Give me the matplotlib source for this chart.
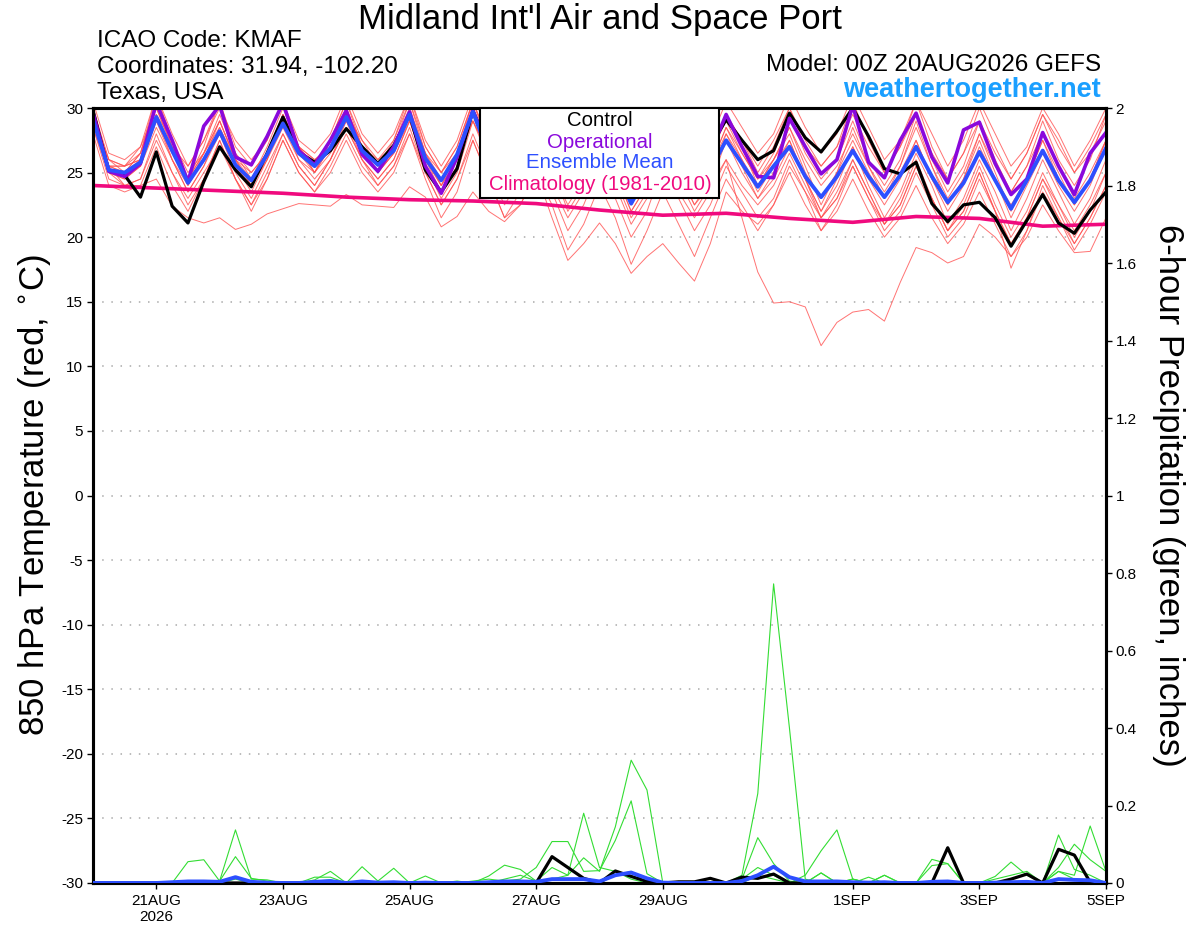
import matplotlib
matplotlib.use('Agg')
import matplotlib.pyplot as plt
from matplotlib.patches import Rectangle

plt.rcParams['font.family'] = ['Liberation Sans', 'DejaVu Sans']
plt.rcParams['axes.unicode_minus'] = False

# 6-hourly steps from 00Z 20AUG2026 to 00Z 05SEP2026
steps = list(range(65))
days = [s * 0.25 for s in steps]
clim_days = list(range(17))

tick_days = [1, 3, 5, 7, 9, 12, 14, 16]
tick_labels = ['21AUG\n2026', '23AUG', '25AUG', '27AUG', '29AUG', '1SEP', '3SEP', '5SEP']

# 850 hPa temperature (C)
ens_mean = [29.1, 25.2, 25.0, 25.8, 29.3, 26.7, 24.2, 26.0, 28.2, 25.6, 24.4, 26.4, 28.8, 26.5, 25.5, 26.9, 29.3,
            26.7, 25.6, 26.7, 29.5, 26.1, 24.4, 26.4, 29.7, 26.5, 24.3, 26.0, 28.8, 26.0, 23.8, 25.5, 28.3,
            25.3, 22.6, 24.8, 27.8, 25.3, 23.3, 25.2, 27.5, 25.7, 23.9, 25.5, 27.0, 24.7, 23.1, 24.7, 26.7,
            24.7, 23.1, 24.8, 27.0, 24.7, 22.7, 24.2, 26.6, 24.4, 22.2, 24.4, 26.7, 24.4, 22.7, 24.4, 26.9]
control = [29.8, 25.1, 24.8, 23.1, 26.6, 22.4, 21.1, 24.3, 27.0, 25.2, 23.9, 26.5, 29.3, 26.6, 25.8, 26.7, 28.4,
           27.0, 25.7, 27.1, 29.5, 25.2, 23.5, 25.3, 29.8, 27.0, 25.0, 26.5, 29.0, 26.5, 24.5, 26.0, 28.5,
           26.0, 24.0, 26.0, 28.5, 27.0, 25.5, 27.0, 29.1, 27.5, 26.0, 26.7, 29.6, 27.7, 26.6, 28.2, 30.0,
           27.8, 25.3, 24.9, 25.8, 22.6, 21.2, 22.5, 22.7, 21.5, 19.3, 21.3, 23.3, 21.1, 20.3, 22.1, 23.5]
operational = [29.6, 25.1, 24.7, 25.7, 30.4, 27.5, 24.3, 28.6, 30.2, 26.2, 25.6, 27.8, 30.4, 26.7, 25.6, 27.5, 29.8,
               26.4, 25.1, 27.0, 29.7, 25.5, 23.4, 26.2, 29.8, 26.8, 24.5, 26.5, 29.5, 26.3, 24.0, 25.8, 29.0,
               25.5, 22.8, 25.5, 28.5, 26.0, 24.0, 26.5, 29.5, 27.0, 24.7, 24.6, 29.2, 27.0, 24.9, 26.0, 30.2,
               25.8, 24.6, 27.5, 29.6, 26.2, 24.2, 28.3, 28.9, 25.7, 23.3, 24.5, 28.1, 25.5, 23.3, 26.5, 28.1]
climatology = [24.0, 23.8, 23.6, 23.4, 23.1, 22.9, 22.8, 22.6, 22.1, 21.7, 21.85, 21.45, 21.15, 21.6, 21.45, 20.85, 21.0]

member_01 = [30.5, 26.5, 26.0, 27.0, 31.0, 28.0, 25.5, 27.5, 30.5, 27.0, 25.5, 27.5, 30.5, 27.5, 26.5, 28.0, 31.0,
             28.0, 26.5, 28.0, 31.0, 27.5, 25.5, 27.5, 31.0, 28.0, 26.0, 27.5, 30.5, 27.5, 25.0, 27.0, 30.0,
             27.0, 24.5, 26.5, 29.5, 27.0, 25.0, 27.0, 29.5, 27.5, 25.5, 27.5, 30.0, 27.0, 25.5, 27.0, 29.5,
             27.0, 25.0, 27.0, 29.5, 26.5, 24.5, 26.5, 29.0, 26.5, 24.5, 26.5, 29.5, 27.0, 25.0, 27.0, 29.5]
member_02 = [29.0, 25.5, 24.0, 24.0, 24.5, 22.4, 21.5, 21.1, 21.5, 20.6, 21.0, 21.8, 22.2, 22.6, 22.5, 22.4, 23.3,
             22.5, 22.4, 22.3, 23.9, 23.1, 20.8, 21.6, 23.5, 22.0, 21.2, 22.5, 25.0, 22.5, 19.0, 21.0, 24.0,
             21.5, 17.9, 20.5, 23.5, 21.0, 18.5, 21.5, 24.5, 22.5, 20.5, 22.5, 25.0, 22.5, 20.5, 22.0, 24.5,
             22.0, 20.0, 21.5, 24.0, 21.5, 19.5, 21.0, 23.5, 21.0, 18.5, 20.5, 23.5, 21.5, 19.5, 21.5, 24.0]
member_03 = [29.5, 25.5, 25.5, 26.5, 30.0, 27.0, 24.5, 26.5, 29.0, 26.0, 24.0, 26.0, 29.5, 27.0, 25.0, 27.0, 30.0,
             27.0, 25.0, 26.5, 29.5, 26.0, 24.0, 26.0, 29.0, 26.5, 24.0, 26.0, 28.5, 25.5, 23.0, 25.0, 27.5,
             25.0, 22.0, 24.0, 27.0, 25.0, 22.5, 24.0, 26.0, 21.5, 17.3, 14.9, 15.0, 14.6, 11.6, 13.4, 14.2,
             14.4, 13.5, 16.5, 19.2, 18.8, 18.0, 18.5, 21.0, 20.0, 18.5, 20.0, 22.5, 20.5, 18.8, 18.9, 21.5]
member_04 = [28.5, 25.0, 24.5, 25.5, 28.5, 26.0, 23.5, 25.5, 28.0, 25.0, 23.0, 25.5, 28.0, 25.5, 24.0, 26.0, 28.5,
             26.0, 24.0, 25.5, 28.0, 25.0, 22.5, 24.5, 27.5, 24.5, 21.5, 22.5, 25.0, 21.5, 18.2, 19.5, 21.1,
             19.5, 17.2, 18.5, 19.5, 18.0, 16.6, 19.5, 23.5, 22.0, 21.0, 22.5, 25.5, 23.5, 21.5, 23.0, 26.0,
             23.5, 21.0, 22.5, 25.5, 23.0, 20.5, 22.0, 25.0, 22.0, 19.5, 21.5, 24.5, 22.5, 20.5, 22.5, 25.0]
member_05 = [29.0, 26.0, 25.5, 26.0, 29.5, 27.5, 25.0, 26.5, 29.5, 26.5, 25.0, 26.5, 29.0, 27.0, 26.0, 27.0, 29.5,
             27.5, 26.0, 27.5, 30.5, 27.0, 25.0, 27.0, 30.5, 27.5, 25.5, 27.0, 29.5, 27.0, 24.5, 26.5, 29.5,
             26.5, 24.0, 26.0, 29.0, 26.5, 24.5, 26.5, 29.0, 26.5, 24.5, 26.0, 28.5, 26.0, 24.0, 25.5, 28.0,
             25.5, 23.5, 25.5, 28.5, 25.5, 23.0, 25.0, 28.0, 25.5, 23.5, 25.5, 28.0, 25.5, 23.0, 25.0, 27.5]
member_06 = [30.0, 25.5, 25.0, 26.5, 31.0, 27.5, 24.5, 27.0, 30.5, 26.5, 24.5, 27.0, 30.0, 27.0, 25.0, 27.5, 30.5,
             27.0, 25.0, 27.0, 30.5, 26.5, 24.0, 26.5, 30.5, 27.0, 24.5, 26.5, 30.0, 26.5, 24.0, 26.0, 29.5,
             26.0, 23.5, 25.5, 29.0, 26.0, 24.0, 26.0, 29.5, 27.0, 24.0, 26.0, 28.5, 25.5, 22.5, 25.0, 28.5,
             25.5, 23.0, 25.5, 29.0, 25.5, 22.5, 24.5, 28.0, 25.0, 22.0, 24.5, 27.5, 25.0, 22.5, 24.5, 27.5]
member_07 = [28.5, 24.5, 24.0, 24.5, 27.5, 25.0, 23.0, 25.0, 27.0, 24.5, 22.5, 24.5, 27.5, 25.0, 23.5, 25.5, 28.0,
             25.5, 24.0, 25.5, 28.5, 25.0, 22.5, 24.5, 28.0, 25.0, 22.5, 24.5, 27.0, 24.0, 21.5, 23.5, 26.5,
             24.0, 21.0, 23.0, 26.0, 23.5, 21.5, 23.5, 26.0, 24.0, 22.5, 24.0, 26.5, 24.0, 21.5, 23.0, 25.5,
             23.0, 20.5, 22.0, 25.0, 22.5, 20.0, 21.5, 24.5, 22.0, 19.5, 21.5, 24.5, 22.0, 19.5, 21.5, 24.0]
member_08 = [29.5, 25.0, 25.0, 26.5, 30.5, 27.0, 24.0, 26.5, 29.0, 26.0, 24.0, 26.5, 29.5, 26.5, 25.0, 27.0, 29.5,
             26.5, 25.0, 26.5, 29.5, 26.0, 23.5, 26.0, 30.0, 26.5, 24.0, 26.0, 29.5, 26.0, 23.0, 25.5, 28.5,
             25.5, 22.5, 24.5, 28.0, 25.5, 23.0, 25.5, 28.0, 26.0, 24.0, 26.0, 28.0, 25.0, 23.0, 25.0, 27.5,
             25.0, 23.0, 25.0, 27.5, 24.5, 22.0, 24.0, 27.0, 24.5, 21.5, 24.0, 26.5, 24.0, 22.0, 24.0, 27.0]
member_09 = [29.0, 25.5, 25.5, 26.0, 29.0, 26.5, 24.5, 26.5, 28.5, 26.0, 25.0, 26.5, 29.0, 26.5, 25.5, 27.0, 29.5,
             27.0, 26.0, 27.0, 29.5, 26.5, 25.0, 26.5, 29.5, 27.0, 25.0, 27.0, 30.0, 27.5, 25.0, 27.0, 30.5,
             27.5, 25.0, 27.0, 30.5, 28.0, 25.5, 27.5, 30.5, 28.5, 26.5, 28.0, 31.0, 28.5, 26.5, 28.0, 31.0,
             28.5, 26.0, 27.5, 30.5, 28.0, 25.5, 27.5, 30.5, 28.0, 25.5, 27.0, 30.0, 28.0, 25.5, 27.5, 30.0]
member_10 = [28.0, 24.0, 23.5, 24.0, 27.0, 24.0, 22.0, 24.5, 27.5, 24.5, 22.5, 25.0, 28.0, 25.5, 24.0, 26.0, 28.5,
             26.0, 24.5, 26.0, 29.0, 25.5, 23.0, 25.0, 29.0, 26.0, 23.5, 25.5, 28.5, 25.5, 22.0, 24.0, 27.5,
             24.5, 21.5, 23.5, 27.0, 24.5, 22.0, 24.0, 27.5, 25.0, 23.0, 24.5, 27.0, 24.5, 22.0, 24.0, 27.0,
             24.0, 21.5, 23.5, 26.5, 24.0, 21.0, 23.0, 26.0, 23.5, 20.5, 23.0, 26.0, 23.5, 21.0, 23.0, 26.0]
member_11 = [29.5, 26.0, 25.5, 27.0, 30.0, 27.0, 25.5, 27.5, 30.0, 27.5, 26.0, 27.5, 30.5, 27.0, 25.5, 27.5, 30.5,
             27.5, 25.5, 27.5, 31.0, 27.0, 25.0, 27.0, 30.5, 27.5, 25.0, 26.5, 29.5, 26.5, 24.0, 26.0, 29.0,
             26.0, 23.0, 25.0, 28.5, 26.0, 23.5, 25.5, 28.5, 26.5, 24.5, 26.5, 29.5, 26.5, 24.5, 26.0, 29.0,
             26.0, 24.0, 26.0, 29.5, 26.0, 23.5, 25.5, 29.0, 26.0, 23.5, 25.5, 29.0, 26.0, 24.0, 26.0, 29.5]
member_12 = [29.0, 25.0, 24.5, 25.5, 29.0, 26.0, 23.5, 25.5, 28.5, 25.5, 23.5, 26.0, 29.0, 26.0, 24.5, 26.0, 29.0,
             26.0, 24.5, 26.0, 29.0, 25.5, 23.5, 25.5, 29.5, 26.0, 23.5, 25.5, 28.0, 25.0, 22.5, 24.5, 27.5,
             25.0, 22.0, 24.0, 27.5, 25.0, 22.5, 24.5, 28.0, 25.5, 23.0, 25.0, 27.5, 24.5, 21.5, 23.5, 26.0,
             23.5, 21.0, 22.5, 25.5, 23.0, 20.5, 22.0, 25.0, 22.0, 17.6, 20.5, 24.0, 21.5, 19.0, 21.0, 23.5]
member_13 = [30.0, 26.0, 25.0, 25.5, 29.5, 26.0, 24.0, 26.0, 29.0, 26.0, 24.5, 26.5, 29.5, 27.0, 26.0, 27.0, 30.0,
             27.0, 25.5, 27.0, 30.0, 26.5, 24.5, 26.5, 30.0, 26.5, 24.5, 26.5, 29.0, 26.0, 23.5, 25.5, 28.5,
             25.5, 22.5, 24.5, 28.5, 25.5, 23.5, 25.5, 28.5, 26.0, 23.5, 25.5, 27.5, 24.5, 22.0, 24.5, 27.0,
             24.5, 22.5, 24.5, 27.5, 24.5, 22.5, 24.5, 27.5, 24.5, 22.5, 24.5, 27.5, 24.5, 22.5, 24.5, 27.5]
member_14 = [29.0, 25.5, 25.0, 26.0, 29.5, 26.5, 24.5, 26.0, 28.0, 25.5, 24.0, 26.0, 28.5, 26.0, 25.0, 26.5, 29.0,
             26.5, 25.0, 26.5, 29.0, 26.0, 24.0, 26.0, 29.0, 26.5, 24.5, 26.5, 29.0, 26.5, 24.0, 26.5, 29.0,
             26.5, 23.5, 25.5, 29.0, 27.0, 24.5, 26.5, 29.5, 27.5, 25.0, 27.0, 30.0, 27.5, 25.5, 27.0, 30.5,
             27.5, 25.0, 27.0, 30.5, 27.0, 24.5, 26.5, 30.0, 27.0, 24.5, 26.5, 29.5, 27.5, 25.0, 26.5, 29.0]
member_15 = [29.0, 25.0, 24.0, 24.5, 28.0, 25.0, 22.5, 24.5, 27.5, 24.5, 22.0, 24.5, 27.5, 25.0, 23.5, 25.0, 27.5,
             25.0, 23.5, 25.0, 28.0, 24.5, 21.5, 23.5, 27.5, 24.5, 21.5, 23.5, 26.5, 23.5, 20.5, 22.5, 25.5,
             23.0, 20.0, 22.0, 25.5, 23.0, 20.5, 22.5, 25.5, 23.5, 21.5, 23.0, 26.0, 23.5, 20.5, 22.5, 25.5,
             23.0, 21.0, 23.0, 26.0, 23.0, 20.5, 22.5, 25.5, 22.5, 20.0, 22.0, 25.0, 22.5, 20.0, 22.0, 25.0]
members = [member_01, member_02, member_03, member_04, member_05, member_06, member_07, member_08,
           member_09, member_10, member_11, member_12, member_13, member_14, member_15]

# 6-hour precipitation (inches)
pcp_control = [0, 0, 0, 0, 0, 0, 0, 0, 0, 0, 0, 0, 0,
               0, 0, 0, 0, 0, 0, 0, 0, 0, 0, 0, 0, 0,
               0, 0, 0, .068, .04, .012, 0, .031, .017, .004, 0, .003, .003,
               .012, 0, .015, .012, .023, 0, 0, 0, 0, 0, 0, 0, 0,
               0, 0, .091, 0, 0, 0, .01, .023, 0, .087, .072, .002, 0]
pcp_mean = [0, 0, 0, 0, 0, .002, .004, .004, .003, .015, .003, .001, 0,
            0, .003, .005, 0, .004, .001, .002, 0, .001, 0, 0, 0, .002,
            .004, .004, .003, .01, .01, .01, .004, .02, .027, .012, .001, 0, 0,
            0, 0, .005, .02, .042, .015, .004, .004, .004, .002, .001, .002, 0,
            0, .003, .004, 0, 0, .001, .002, .003, 0, .01, .008, .007, 0]
pcp_m1 = [0, 0, 0, 0, 0, 0, .055, .06, .005, .137, .01, .008, 0,
          0, 0, 0, 0, 0, 0, 0, 0, 0, 0, 0, 0, 0,
          0, 0, 0, 0, 0, 0, 0, 0, 0, 0, 0, 0, 0,
          0, 0, 0, 0, 0, 0, 0, 0, 0, 0, 0, 0, 0,
          0, 0, 0, 0, 0, 0, 0, 0, 0, .03, .01, 0, 0]
pcp_m2 = [0, 0, 0, 0, 0, 0, 0, 0, .005, .068, .012, .005, 0,
          0, .008, .03, 0, .042, .005, .038, 0, .018, 0, 0, 0, 0,
          0, 0, 0, 0, 0, 0, 0, 0, 0, 0, 0, 0, 0,
          0, 0, 0, .02, .01, 0, 0, 0, 0, 0, 0, 0, 0,
          0, 0, 0, 0, 0, 0, 0, 0, 0, 0, 0, 0, 0]
pcp_m3 = [0, 0, 0, 0, 0, 0, 0, 0, 0, 0, 0, 0, 0,
          0, 0, 0, 0, 0, 0, 0, 0, 0, 0, 0, 0, .018,
          .046, .035, .005, .04, .02, .065, .03, .145, .317, .24, 0, 0, 0,
          0, 0, .01, .04, .02, 0, 0, .026, 0, 0, .015, 0, 0,
          0, .045, .05, 0, 0, .017, .054, .02, 0, 0, 0, 0, 0]
pcp_m4 = [0, 0, 0, 0, 0, 0, 0, 0, 0, 0, 0, 0, 0,
          0, .015, .015, 0, 0, 0, 0, 0, 0, 0, 0, .005, .01,
          .005, .01, .04, .107, .107, .03, .032, .11, .212, .024, 0, 0, 0,
          0, 0, 0, 0, 0, 0, .02, .083, .137, .01, 0, .02, 0,
          0, 0, 0, 0, 0, 0, 0, 0, 0, .124, .035, .02, 0]
pcp_m5 = [0, 0, 0, 0, 0, 0, 0, 0, 0, 0, 0, 0, 0,
          0, 0, 0, 0, 0, 0, 0, 0, 0, 0, 0, 0, 0,
          0, 0, 0, .01, .02, .18, .04, .03, .01, 0, 0, 0, 0,
          0, 0, .02, .231, .772, .40, .01, 0, 0, .01, 0, 0, 0,
          0, .061, .05, 0, 0, 0, 0, 0, 0, .04, .1, .06, .03]
pcp_m6 = [0, 0, 0, 0, 0, 0, 0, 0, 0, .01, 0, 0, 0,
          0, .005, .008, 0, 0, 0, 0, 0, 0, 0, .005, 0, 0,
          .01, .02, .005, 0, 0, 0, 0, .02, .03, 0, 0, 0, 0,
          0, 0, .01, .117, .05, .005, 0, .026, 0, .01, 0, .02, 0,
          0, 0, 0, 0, 0, .01, .02, .03, 0, .03, .02, .147, .03]
pcp_members = [pcp_m1, pcp_m2, pcp_m3, pcp_m4, pcp_m5, pcp_m6]

W, H = 1200, 927
fig = plt.figure(figsize=(W / 100, H / 100), dpi=100)
ax = fig.add_axes([93 / W, 1 - 883 / H, (1106 - 93) / W, (883 - 108) / H])
ax2 = ax.twinx()

for v in range(-25, 30, 5):
    ax.axhline(v, color='#aaaaaa', lw=1.1, ls=(0, (1, 5)), zorder=0)

for m in members:
    ax.plot(days, m, color='#ff5050', lw=0.7, alpha=0.8, zorder=1)
ax.plot(clim_days, climatology, color='#f00a7e', lw=2.6, zorder=3)
ax.plot(days, control, color='black', lw=2.3, zorder=4)
ax.plot(days, operational, color='#8a08dc', lw=2.6, zorder=5)
ax.plot(days, ens_mean, color='#2d4fff', lw=2.8, zorder=6)

for m in pcp_members:
    ax2.plot(days, m, color='#33dd33', lw=0.8, zorder=1)
ax2.plot(days, pcp_control, color='black', lw=2.3, zorder=2)
ax2.plot(days, pcp_mean, color='#2d4fff', lw=2.8, zorder=3)

ax.set_xlim(0, 16)
ax.set_ylim(-30, 30)
ax.set_yticks(range(-30, 31, 5))
ax2.set_ylim(0, 2)
ax2.set_yticks([0, 0.2, 0.4, 0.6, 0.8, 1, 1.2, 1.4, 1.6, 1.8, 2])
ax2.set_yticklabels(['0', '0.2', '0.4', '0.6', '0.8', '1', '1.2', '1.4', '1.6', '1.8', '2'])
ax.set_xticks(tick_days)
ax.set_xticklabels(tick_labels)

for a in (ax, ax2):
    for sp in a.spines.values():
        sp.set_linewidth(2.2)
    a.tick_params(direction='out', length=4, width=1, labelsize=11, pad=3)
ax.tick_params(axis='x', pad=4)

fig.text(0.5, 1 - 20 / H, "Midland Int'l Air and Space Port", ha='center', va='center', fontsize=25)
fig.text(97 / W, 1 - 41 / H, 'ICAO Code: KMAF', va='center', fontsize=17.5)
fig.text(97 / W, 1 - 67 / H, 'Coordinates: 31.94, -102.20', va='center', fontsize=17.5)
fig.text(97 / W, 1 - 93 / H, 'Texas, USA', va='center', fontsize=17.5)
fig.text(1101 / W, 1 - 65 / H, 'Model: 00Z 20AUG2026 GEFS', ha='right', va='center', fontsize=17.5)
fig.text(1101 / W, 1 - 90 / H, 'weathertogether.net', ha='right', va='center', fontsize=19.5,
         fontweight='bold', color='#1a9fff')

fig.text(35 / W, 1 - 495 / H, '850 hPa Temperature (red, $^{\\circ}$C)', rotation=90,
         ha='center', va='center', fontsize=25)
fig.text(1168 / W, 1 - 495 / H, '6-hour Precipitation (green, inches)', rotation=270,
         ha='center', va='center', fontsize=25)

# legend box
fig.add_artist(Rectangle((480 / W, 1 - 198 / H), 239 / W, 90 / H, transform=fig.transFigure,
                         facecolor='white', edgecolor='black', lw=1.5, zorder=5))
leg = [('Control', 'black', 121), ('Operational', '#8a08dc', 142),
       ('Ensemble Mean', '#2d4fff', 163), ('Climatology (1981-2010)', '#f00a7e', 185)]
for txt, col, yy in leg:
    fig.text(600 / W, 1 - yy / H, txt, color=col, ha='center', va='center', fontsize=14.7, zorder=6)

fig.savefig('out.png', dpi=100)
